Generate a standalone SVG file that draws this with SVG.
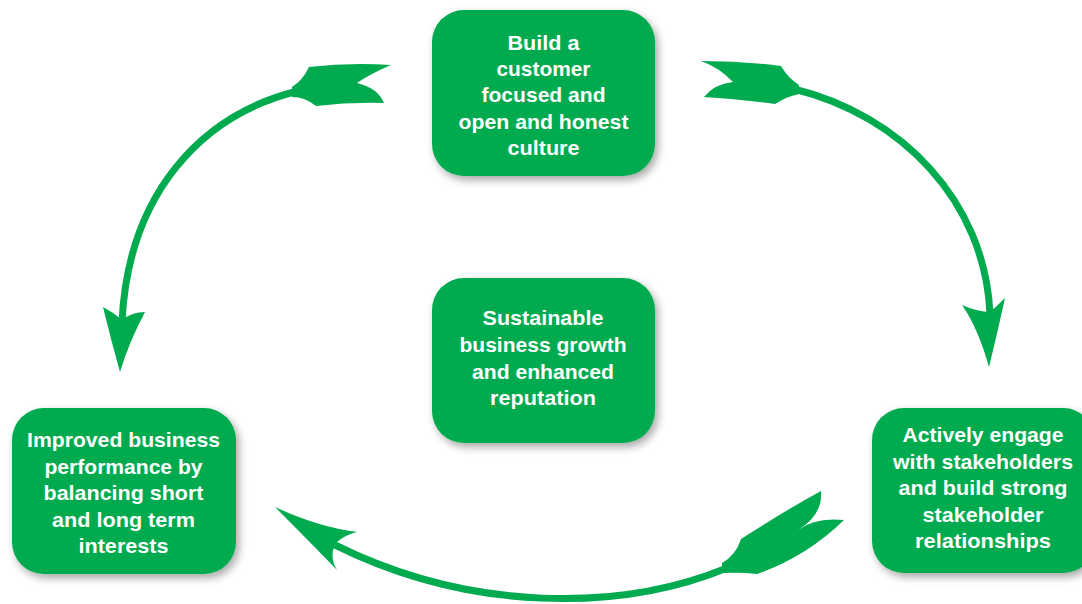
<svg xmlns="http://www.w3.org/2000/svg" width="1082" height="604" viewBox="0 0 1082 604">
  <defs>
    <filter id="soft-shadow" x="-20%" y="-20%" width="140%" height="150%">
      <feDropShadow dx="3" dy="4" stdDeviation="4" flood-color="#000" flood-opacity="0.35"/>
    </filter>
  </defs>
  <style>
    .box { fill: #00AA4F; filter: url(#soft-shadow); }
    .label { fill: #ffffff; font-family: "Liberation Sans", Arial, sans-serif; font-weight: bold; font-size: 21px; text-anchor: middle; }
    .arc { fill: none; stroke: #00AA4F; stroke-width: 7; }
    .head, .tail { fill: #00AA4F; }
  </style>
  <rect width="1082" height="604" fill="#ffffff"/>

  <!-- cycle connectors -->
  <g id="connectors">
    <!-- top-left: culture -> performance -->
    <path class="arc" d="M 298 91 C 200 115, 128 195, 122 322"/>
    <path class="tail" d="M 292 87 Q 303 80 309 67 Q 350 62 391 65 Q 370 74 357 83 Q 378 88 384 103 Q 350 102 316 106 Q 305 97 292 97 Z"/>
    <path class="head" d="M 120 372 Q 111 340 103 307 Q 113 312 122 320 Q 132 312 145 312 Q 129 342 120 372 Z"/>

    <!-- top-right: culture -> stakeholders -->
    <path class="arc" d="M 794 89 C 900 115, 985 200, 990 314"/>
    <path class="tail" d="M 701 61 Q 742 61 781 66 Q 788 78 799 85 L 799 94 Q 788 96 775 104 Q 740 99 704 97 Q 714 84 733 82 Q 720 68 701 61 Z"/>
    <path class="head" d="M 989 367 Q 978 328 962 305 Q 978 312 990 312 Q 997 306 1005 298 Q 998 330 989 367 Z"/>

    <!-- bottom: stakeholders -> performance -->
    <path class="arc" d="M 727 568 C 620 612, 470 612, 335 545"/>
    <path class="tail" d="M 722 563 Q 736 555 741 539 Q 786 510 821 491 Q 823 515 798 530 Q 815 517 844 520 Q 806 557 757 574 Q 740 572 722 573 Z"/>
    <path class="head" d="M 275 507 Q 318 527 357 532 Q 345 535 337 542 Q 328 555 337 570 Q 305 537 275 507 Z"/>
  </g>

  <g id="node-culture">
    <rect class="box" x="432" y="10" width="223" height="166" rx="32"/>
    <text class="label" x="543.5" y="49.5" textLength="72" lengthAdjust="spacingAndGlyphs">Build a</text>
    <text class="label" x="543.5" y="76" textLength="94" lengthAdjust="spacingAndGlyphs">customer</text>
    <text class="label" x="543.5" y="102" textLength="124" lengthAdjust="spacingAndGlyphs">focused and</text>
    <text class="label" x="543.5" y="129" textLength="170" lengthAdjust="spacingAndGlyphs">open and honest</text>
    <text class="label" x="543.5" y="155" textLength="72" lengthAdjust="spacingAndGlyphs">culture</text>
  </g>

  <g id="node-growth">
    <rect class="box" x="432" y="278" width="223" height="165" rx="32"/>
    <text class="label" x="543" y="325" textLength="121" lengthAdjust="spacingAndGlyphs">Sustainable</text>
    <text class="label" x="543" y="352" textLength="167" lengthAdjust="spacingAndGlyphs">business growth</text>
    <text class="label" x="543" y="378.5" textLength="142" lengthAdjust="spacingAndGlyphs">and enhanced</text>
    <text class="label" x="543" y="405" textLength="106" lengthAdjust="spacingAndGlyphs">reputation</text>
  </g>

  <g id="node-performance">
    <rect class="box" x="12" y="408" width="224" height="166" rx="32"/>
    <text class="label" x="123.5" y="447" textLength="193" lengthAdjust="spacingAndGlyphs">Improved business</text>
    <text class="label" x="123.5" y="473.5" textLength="158" lengthAdjust="spacingAndGlyphs">performance by</text>
    <text class="label" x="123.5" y="500" textLength="160" lengthAdjust="spacingAndGlyphs">balancing short</text>
    <text class="label" x="123.5" y="526.5" textLength="143" lengthAdjust="spacingAndGlyphs">and long term</text>
    <text class="label" x="123.5" y="553" textLength="90" lengthAdjust="spacingAndGlyphs">interests</text>
  </g>

  <g id="node-stakeholders">
    <rect class="box" x="872" y="408" width="223" height="165" rx="32"/>
    <text class="label" x="983" y="442" textLength="161" lengthAdjust="spacingAndGlyphs">Actively engage</text>
    <text class="label" x="983" y="468.5" textLength="180" lengthAdjust="spacingAndGlyphs">with stakeholders</text>
    <text class="label" x="983" y="495" textLength="169" lengthAdjust="spacingAndGlyphs">and build strong</text>
    <text class="label" x="983" y="521.5" textLength="121" lengthAdjust="spacingAndGlyphs">stakeholder</text>
    <text class="label" x="983" y="548" textLength="136" lengthAdjust="spacingAndGlyphs">relationships</text>
  </g>
</svg>
